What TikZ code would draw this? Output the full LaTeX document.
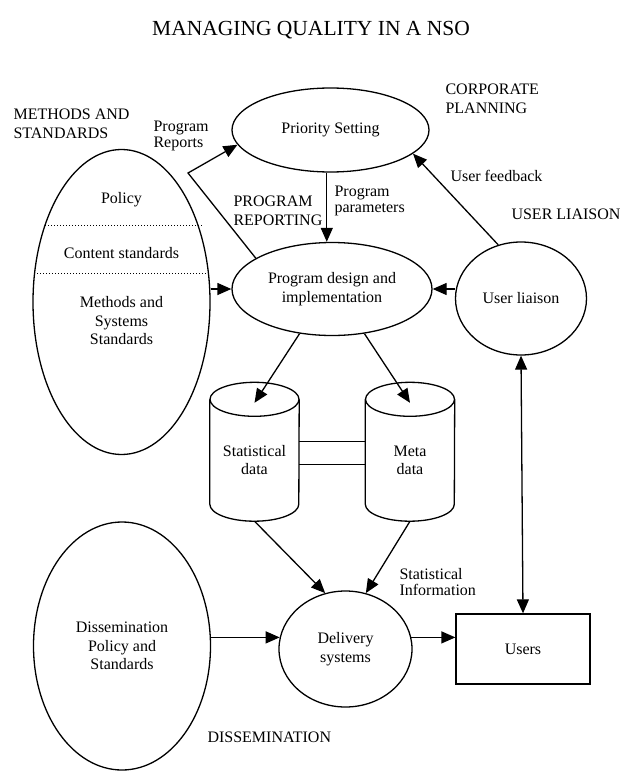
\documentclass[tikz,border=0pt]{standalone}
\usepackage{fontspec}
\setmainfont{Liberation Serif}
\usetikzlibrary{arrows.meta,shapes.geometric,calc}
\newcommand\bodyfont{\fontsize{16}{18.5}\selectfont}
\newcommand\flowfont{\fontsize{16}{15.5}\selectfont}
\newcommand\drawdrum[1]{%
  \draw[line width=1.3pt] (#1.north west) -- ([yshift=17pt]#1.south west)
    arc[start angle=180, end angle=360, x radius=44.5pt, y radius=17pt] -- (#1.north east);
  \draw[line width=1.3pt] (#1.north) ellipse [x radius=44.5pt, y radius=17pt];}

\begin{document}
\begin{tikzpicture}[x=1pt, y=-1pt,
  proc/.style={draw, ellipse, line width=1.3pt, inner sep=0pt, align=center, font=\bodyfont},
  store/.style={rectangle, inner sep=0pt, align=center, font=\bodyfont,
    minimum width=89pt, minimum height=121.5pt},
  extent/.style={draw, rectangle, line width=1.3pt, inner sep=0pt, font=\bodyfont},
  inner/.style={align=center, font=\bodyfont},
  area/.style={anchor=west, align=left, font=\bodyfont},
  flowlbl/.style={anchor=west, align=left, font=\flowfont},
  flow/.style={-{Triangle[length=14pt,width=12pt]}, line width=1.3pt},
  both/.style={{Triangle[length=14pt,width=12pt]}-{Triangle[length=14pt,width=12pt]}, line width=1.3pt}
]
\useasboundingbox (0,0) rectangle (623,773);
\node[font=\fontsize{21.5}{24}\selectfont] (ttl) at (311,30) {MANAGING QUALITY IN A NSO};

\node[proc, minimum width=197pt, minimum height=84pt] (prior) at (330.5,130) {Priority Setting};
\node[proc, minimum width=200pt, minimum height=93pt] (prog) at (332,289) {Program design and\\implementation};
\node[proc, minimum width=131pt, minimum height=113pt] (liaison) at (521,298.5) {User liaison};
\node[proc, minimum width=177pt, minimum height=305pt] (meth) at (121.5,302) {};
\node[proc, minimum width=177pt, minimum height=248pt] (diss) at (122,646) {Dissemination\\Policy and\\Standards};
\node[proc, minimum width=133pt, minimum height=116pt] (deliv) at (345.5,649) {Delivery\\systems};
\node[extent, minimum width=134pt, minimum height=70pt] (users) at (523,649) {Users};
\node[store] (statdata) at (254.5,460.25) {Statistical\\data};
\node[store] (metadata) at (410,460.25) {Meta\\data};
\drawdrum{statdata}
\drawdrum{metadata}

\node[inner] (policy) at (121.5,200) {Policy};
\node[inner] (content) at (121.5,253) {Content standards};
\node[inner] (msys) at (121.5,321) {Methods and\\Systems\\Standards};
\draw[dotted, line width=1pt] (45,225) -- (202,225);
\draw[dotted, line width=1pt] (37,273) -- (207,273);

\node[area] (methlbl) at (10,124) {METHODS AND\\STANDARDS};
\node[area] (corplbl) at (442,99) {CORPORATE\\PLANNING};
\node[area] (preplbl) at (230,211) {PROGRAM\\REPORTING};
\node[area] (ulialbl) at (508,214) {USER LIAISON};
\node[area] (disslbl) at (204,737) {DISSEMINATION};
\node[flowlbl] (reports) at (150,136) {Program\\Reports};
\node[flowlbl] (params) at (331,201) {Program\\parameters};
\node[flowlbl] (feedback) at (447,176) {User feedback};
\node[flowlbl] (statinfo) at (396,582) {Statistical\\Information};

\coordinate (rptbend) at (188,173);
\draw[flow] (prog.158) -- (rptbend) -- (prior.189);
\draw[flow] (prior.265) -- (prior.265 |- prog.north);
\draw[flow] (liaison.113) -- (prior.344);
\draw[flow] (prog.west -| meth.east) -- (prog.west);
\draw[flow] (prog.east -| liaison.west) -- (prog.east);
\draw[flow] (prog.234) -- ([yshift=-3.5pt]statdata.north);
\draw[flow] (prog.306) -- ([yshift=-3.5pt]metadata.north);
\draw[line width=1.3pt] ([yshift=19pt]statdata.east) -- ([yshift=19pt]metadata.west);
\draw[line width=1.3pt] ([yshift=-4pt]statdata.east) -- ([yshift=-4pt]metadata.west);
\draw[flow] (statdata.south) -- (deliv.110);
\draw[flow] (metadata.south) -- (deliv.70);
\draw[flow] (deliv.170 -| diss.east) -- (deliv.170);
\draw[flow] (deliv.10) -- (deliv.10 -| users.west);
\draw[both] (liaison.south) -- (users.north);
\end{tikzpicture}
\end{document}
